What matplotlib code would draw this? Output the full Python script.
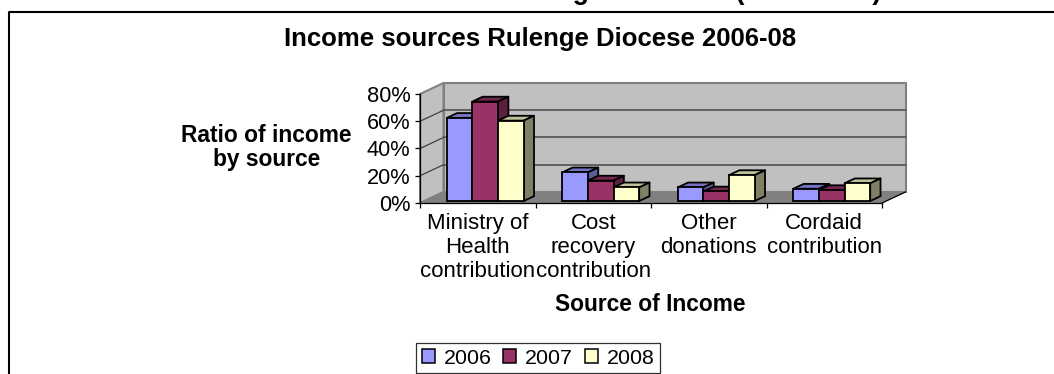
import matplotlib
matplotlib.use("Agg")
import matplotlib.pyplot as plt
from matplotlib.lines import Line2D
from matplotlib.patches import Patch

plt.rcParams['font.family'] = ['Liberation Sans', 'DejaVu Sans']

categories = ["Ministry of\nHealth\ncontribution", "Cost\nrecovery\ncontribution",
              "Other\ndonations\n ", "Cordaid\ncontribution\n "]
years = ["2006", "2007", "2008"]
share_2006 = [61, 21, 10, 9]
share_2007 = [73, 15, 7, 8]
share_2008 = [59, 10, 19, 13]
y_ticks = [0, 20, 40, 60, 80]
y_labels = ["0%", "20%", "40%", "60%", "80%"]

front = ["#9999FF", "#993366", "#FFFFCC"]
top = ["#7373BF", "#732650", "#BFBF99"]
side = ["#5C5C99", "#5C1F3D", "#808066"]

W, H = 1054, 374
# front plane of the 3d box, in pixels
LEFT, RIGHT, BOTTOM, TOP = 420, 882, 203, 94

# oblique offset of the back of the box, in data units
DEPTH_X = 23.5 / ((RIGHT - LEFT) / 4)
DEPTH_Y = 11 / ((BOTTOM - TOP) / 80)

BAR_W = 0.222
BAR_START = 0.195
BAR_Z0 = 0.18
BAR_Z1 = 0.62


def oblique(x, y, z):
    return x + z * DEPTH_X, y + z * DEPTH_Y


def face(ax, pts, color, edge, lw, zorder):
    xs, ys = zip(*[oblique(*p) for p in pts])
    ax.fill(xs, ys, facecolor=color, edgecolor=edge, linewidth=lw, zorder=zorder,
            clip_on=False, joinstyle='round')


def draw_box(ax):
    n = len(categories)
    # back wall, left wall, floor
    face(ax, [(0, 0, 1), (n, 0, 1), (n, 80, 1), (0, 80, 1)], "#C0C0C0", "#808080", 1.5, 1)
    face(ax, [(0, 0, 0), (0, 0, 1), (0, 80, 1), (0, 80, 0)], "#C0C0C0", "#808080", 1.5, 1)
    face(ax, [(0, 0, 0), (n, 0, 0), (n, 0, 1), (0, 0, 1)], "#808080", "#808080", 0.5, 1)
    for t in y_ticks[1:-1]:
        xs, ys = zip(oblique(0, t, 1), oblique(n, t, 1))
        ax.plot(xs, ys, color="#606060", lw=1.4, zorder=2, clip_on=False)
        xs, ys = zip(oblique(0, t, 0), oblique(0, t, 1))
        ax.plot(xs, ys, color="#404040", lw=0.9, zorder=2, clip_on=False)
    xs, ys = zip(oblique(n, 0, 0), oblique(n, 0, 1))
    ax.plot(xs, ys, color="black", lw=0.9, zorder=2, clip_on=False)


def draw_bars(ax):
    z = 3
    series = [share_2006, share_2007, share_2008]
    for c in range(len(categories)):
        for s, values in enumerate(series):
            v = values[c]
            x0 = c + BAR_START + s * BAR_W
            x1 = x0 + BAR_W
            face(ax, [(x0, v, BAR_Z0), (x1, v, BAR_Z0), (x1, v, BAR_Z1), (x0, v, BAR_Z1)],
                 top[s], "black", 1.3, z)
            face(ax, [(x1, 0, BAR_Z0), (x1, 0, BAR_Z1), (x1, v, BAR_Z1), (x1, v, BAR_Z0)],
                 side[s], "black", 1.3, z)
            bx, by = oblique(x0, 0, BAR_Z0)
            ax.bar(bx, v, BAR_W, bottom=by, align='edge', color=front[s], edgecolor="black",
                   linewidth=1.3, zorder=z + 1, clip_on=False)
            z += 2


def main():
    fig = plt.figure(figsize=(W / 100, H / 100), dpi=100)
    ax = fig.add_axes([LEFT / W, 1 - BOTTOM / H, (RIGHT - LEFT) / W, (BOTTOM - TOP) / H])
    ax.patch.set_visible(False)
    ax.set_xlim(0, len(categories))
    ax.set_ylim(0, 80)

    draw_box(ax)
    draw_bars(ax)

    for name in ['top', 'right']:
        ax.spines[name].set_visible(False)
    for name in ['left', 'bottom']:
        ax.spines[name].set_linewidth(0.9)
        ax.spines[name].set_zorder(50)

    ax.set_yticks(y_ticks, y_labels, fontsize=15.7)
    ax.tick_params(axis='y', length=3.5, width=0.9, pad=3.5)
    ax.set_xticks(range(len(categories) + 1), [""] * (len(categories) + 1))
    ax.set_xticks([i + 0.5 for i in range(len(categories))], categories, minor=True,
                  fontsize=16, linespacing=1.2)
    ax.tick_params(axis='x', which='major', length=3.5, width=0.9)
    ax.tick_params(axis='x', which='minor', length=0, pad=7)

    ax.set_ylabel("Ratio of income\nby source", rotation=0, fontsize=16.4, fontweight='bold',
                  ha='center', va='center', linespacing=1.06)
    ax.yaxis.set_label_coords(-0.333, 0.505)
    ax.set_xlabel("Source of Income", fontsize=16.4, fontweight='bold', va='center')
    ax.xaxis.set_label_coords(0.498, -0.93)

    fig.text(540 / W, 1 - 46 / H, "Income sources Rulenge Diocese 2006-08", fontsize=18.5,
             fontweight='bold', ha='center', va='baseline')
    # slide heading above the chart frame, running off the top of the page
    fig.text(881 / W, 1 + 1.5 / H, "Income sources in Rulenge Dioceses (2006-2008)", fontsize=19.3,
             fontweight='bold', ha='right', va='baseline')

    # chart frame, only left and top edges fall on the page
    fig.add_artist(Line2D([8.5 / W, 8.5 / W, 1], [0, 1 - 12 / H, 1 - 12 / H],
                          color="black", lw=1.5, transform=fig.transFigure))

    handles = [Patch(facecolor=c, edgecolor="black", linewidth=1.1) for c in front]
    leg = fig.legend(handles, years, ncol=3, fontsize=15.4, frameon=True, fancybox=False,
                     edgecolor="#303030", framealpha=1, loc='center',
                     bbox_to_anchor=(538 / W, 1 - 358 / H), handlelength=0.62, handleheight=0.6,
                     handletextpad=0.4, columnspacing=0.55, borderpad=0.25, borderaxespad=0)
    leg.get_frame().set_linewidth(0.9)

    fig.savefig("out.png", dpi=100)


if __name__ == "__main__":
    main()
